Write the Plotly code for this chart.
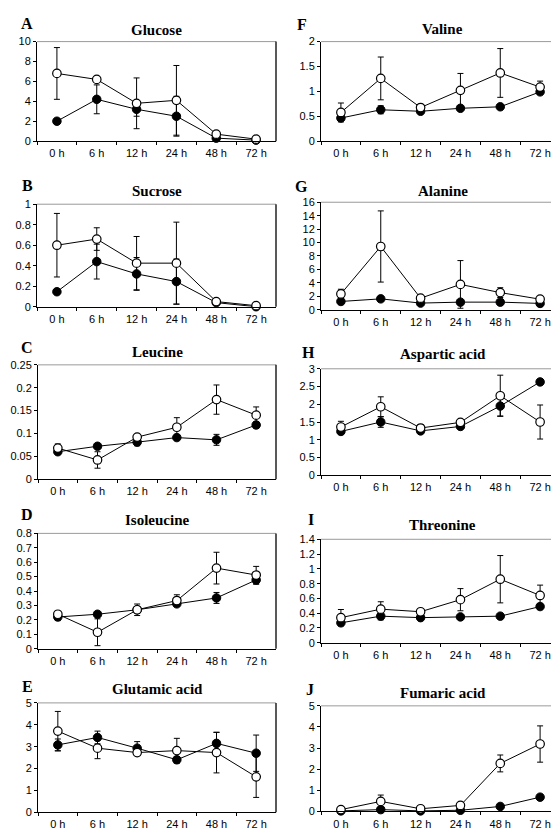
import plotly.graph_objects as go

hours = ["0 h", "6 h", "12 h", "24 h", "48 h", "72 h"]

# Panel A - Glucose
glucose_open = [6.8, 6.2, 3.8, 4.1, 0.7, 0.2]
glucose_open_err = [2.6, 0.2, 2.55, 3.5, 0.1, 0.05]
glucose_closed = [2.0, 4.2, 3.2, 2.5, 0.3, 0.1]
glucose_closed_err = [0.2, 1.45, 0.7, 2.0, 0.1, 0.05]

# Panel B - Sucrose
sucrose_open = [0.60, 0.66, 0.425, 0.425, 0.05, 0.01]
sucrose_open_err = [0.31, 0.11, 0.26, 0.4, 0.01, 0.01]
sucrose_closed = [0.146, 0.44, 0.32, 0.245, 0.04, 0.0]
sucrose_closed_err = [0.01, 0.17, 0.16, 0.22, 0.01, 0.0]

# Panel C - Leucine
leucine_open = [0.068, 0.042, 0.092, 0.1135, 0.174, 0.14]
leucine_open_err = [0.009, 0.018, 0.005, 0.021, 0.032, 0.018]
leucine_closed = [0.06, 0.072, 0.081, 0.091, 0.086, 0.1185]
leucine_closed_err = [0.005, 0.003, 0.008, 0.004, 0.012, 0.007]

# Panel D - Isoleucine
isoleucine_open = [0.239, 0.114, 0.27, 0.334, 0.559, 0.511]
isoleucine_open_err = [0.02, 0.093, 0.02, 0.04, 0.11, 0.06]
isoleucine_closed = [0.22, 0.239, 0.27, 0.311, 0.352, 0.477]
isoleucine_closed_err = [0.025, 0.01, 0.04, 0.015, 0.038, 0.03]

# Panel E - Glutamic acid
glutamic_open = [3.71, 2.93, 2.73, 2.82, 2.73, 1.62]
glutamic_open_err = [0.9, 0.48, 0.1, 0.56, 0.93, 0.94]
glutamic_closed = [3.08, 3.42, 2.93, 2.40, 3.15, 2.70]
glutamic_closed_err = [0.27, 0.29, 0.3, 0.15, 0.5, 0.83]

# Panel F - Valine
valine_open = [0.576, 1.26, 0.675, 1.02, 1.37, 1.086]
valine_open_err = [0.19, 0.43, 0.05, 0.34, 0.49, 0.12]
valine_closed = [0.464, 0.63, 0.60, 0.66, 0.69, 0.99]
valine_closed_err = [0.04, 0.08, 0.02, 0.03, 0.03, 0.04]

# Panel G - Alanine
alanine_open = [2.34, 9.41, 1.71, 3.76, 2.54, 1.56]
alanine_open_err = [0.7, 5.3, 0.2, 3.55, 0.73, 0.2]
alanine_closed = [1.22, 1.61, 0.98, 1.12, 1.12, 0.93]
alanine_closed_err = [0.2, 0.3, 0.1, 0.1, 0.1, 0.1]

# Panel H - Aspartic acid
aspartic_open = [1.36, 1.93, 1.33, 1.49, 2.24, 1.50]
aspartic_open_err = [0.16, 0.28, 0.1, 0.05, 0.58, 0.48]
aspartic_closed = [1.235, 1.50, 1.25, 1.375, 1.95, 2.63]
aspartic_closed_err = [0.05, 0.15, 0.05, 0.03, 0.28, 0.05]

# Panel I - Threonine
threonine_open = [0.34, 0.455, 0.42, 0.583, 0.86, 0.64]
threonine_open_err = [0.11, 0.1, 0.03, 0.15, 0.32, 0.14]
threonine_closed = [0.27, 0.36, 0.34, 0.35, 0.36, 0.49]
threonine_closed_err = [0.03, 0.05, 0.02, 0.02, 0.02, 0.04]

# Panel J - Fumaric acid
fumaric_open = [0.08, 0.47, 0.12, 0.28, 2.27, 3.19]
fumaric_open_err = [0.02, 0.3, 0.03, 0.1, 0.4, 0.86]
fumaric_closed = [0.02, 0.08, 0.02, 0.05, 0.23, 0.67]
fumaric_closed_err = [0.0, 0.0, 0.0, 0.0, 0.03, 0.05]

W, H = 559, 830

panels = [
    ("A", "Glucose", glucose_open, glucose_open_err, glucose_closed, glucose_closed_err,
     10, 2, (29, 268, 28, 129), (19, 10), 16, False),
    ("B", "Sucrose", sucrose_open, sucrose_open_err, sucrose_closed, sucrose_closed_err,
     1, 0.2, (29, 268, 193, 297), (19, 174), 180, False),
    ("C", "Leucine", leucine_open, leucine_open_err, leucine_closed, leucine_closed_err,
     0.25, 0.05, (30, 268, 356, 472), (19, 338), 343, False),
    ("D", "Isoleucine", isoleucine_open, isoleucine_open_err, isoleucine_closed, isoleucine_closed_err,
     0.8, 0.1, (30, 268, 527, 644), (19, 508), 513, False),
    ("E", "Glutamic acid", glutamic_open, glutamic_open_err, glutamic_closed, glutamic_closed_err,
     5, 1, (30, 268, 699, 810), (19, 682), 685, False),
    ("F", "Valine", valine_open, valine_open_err, valine_closed, valine_closed_err,
     2, 0.5, (313, 556, 28, 129), (294, 11), 15, True),
    ("G", "Alanine", alanine_open, alanine_open_err, alanine_closed, alanine_closed_err,
     16, 2, (313, 556, 191, 300), (293, 175), 180, True),
    ("H", "Aspartic acid", aspartic_open, aspartic_open_err, aspartic_closed, aspartic_closed_err,
     3, 0.5, (313, 556, 360, 468), (300, 343), 345, True),
    ("I", "Threonine", threonine_open, threonine_open_err, threonine_closed, threonine_closed_err,
     1.4, 0.2, (313, 556, 533, 638), (303, 513), 519, True),
    ("J", "Fumaric acid", fumaric_open, fumaric_open_err, fumaric_closed, fumaric_closed_err,
     5, 1, (313, 556, 702, 809), (302, 685), 689, True),
]

fig = go.Figure()
annotations = []
shapes = []
tick_font = dict(family="Liberation Sans, Arial, sans-serif", size=11, color="black")

for i, (letter, title, yo, yoe, yc, yce, ymax, dt, box, lpos, ty, right) in enumerate(panels):
    n = i + 1
    xa = "x" if n == 1 else f"x{n}"
    ya = "y" if n == 1 else f"y{n}"
    x0, x1, y0, y1 = box
    xdom = [x0 / W, x1 / W]
    ydom = [1 - y1 / H, 1 - y0 / H]
    xr = [-0.5, 5.6] if right else [-0.5, 5.5]

    fig.add_trace(go.Scatter(
        x=hours, y=yc, xaxis=xa, yaxis=ya, mode="lines+markers",
        line=dict(color="black", width=1),
        marker=dict(symbol="circle", size=8.5, color="black", line=dict(color="black", width=1)),
        error_y=dict(type="data", array=yce, visible=True, color="black", thickness=1, width=3),
        showlegend=False, cliponaxis=False))
    fig.add_trace(go.Scatter(
        x=hours, y=yo, xaxis=xa, yaxis=ya, mode="lines+markers",
        line=dict(color="black", width=1),
        marker=dict(symbol="circle", size=8.5, color="white", line=dict(color="black", width=1.2)),
        error_y=dict(type="data", array=yoe, visible=True, color="black", thickness=1, width=3),
        showlegend=False, cliponaxis=False))

    ticks_y = [round(k * dt, 4) for k in range(int(round(ymax / dt)) + 1)]
    ticktext_y = [("%g" % v) for v in ticks_y]

    fig.layout[("xaxis" if n == 1 else f"xaxis{n}")] = dict(
        domain=xdom, anchor=ya, type="category", range=xr,
        showline=True, linecolor="black", linewidth=1,
        ticks="outside", ticklen=3, tickcolor="black", tickson="boundaries",
        showgrid=False, zeroline=False, tickfont=tick_font, ticklabelstandoff=2,
        fixedrange=True)
    fig.layout[("yaxis" if n == 1 else f"yaxis{n}")] = dict(
        domain=ydom, anchor=xa, range=[0, ymax],
        tickvals=ticks_y, ticktext=ticktext_y,
        showline=True, linecolor="black", linewidth=1,
        ticks="outside", ticklen=3, tickcolor="black",
        showgrid=False, zeroline=False, tickfont=tick_font, fixedrange=True)

    shapes.append(dict(type="line", xref=f"{xa} domain", yref=f"{ya} domain",
                       x0=0, x1=1, y0=1, y1=1, line=dict(color="#9a9a9a", width=1)))
    shapes.append(dict(type="line", xref=f"{xa} domain", yref=f"{ya} domain",
                       x0=1, x1=1, y0=0, y1=1, line=dict(color="#222222", width=1.5)))

    annotations.append(dict(
        text=f"<b>{title}</b>", xref="paper", yref="paper",
        x=(x0 + x1) / 2 / W, y=1 - ty / H, xanchor="center", yanchor="middle",
        showarrow=False, font=dict(family="Liberation Serif, Times New Roman, serif", size=15, color="black")))
    annotations.append(dict(
        text=f"<b>{letter}</b>", xref="paper", yref="paper",
        x=lpos[0] / W, y=1 - lpos[1] / H, xanchor="center", yanchor="middle",
        showarrow=False, font=dict(family="Liberation Serif, Times New Roman, serif", size=16, color="black")))

fig.update_layout(
    width=W, height=H, margin=dict(l=0, r=0, t=0, b=0),
    paper_bgcolor="white", plot_bgcolor="white",
    annotations=annotations, shapes=shapes, showlegend=False)

fig.write_html("out.html")
